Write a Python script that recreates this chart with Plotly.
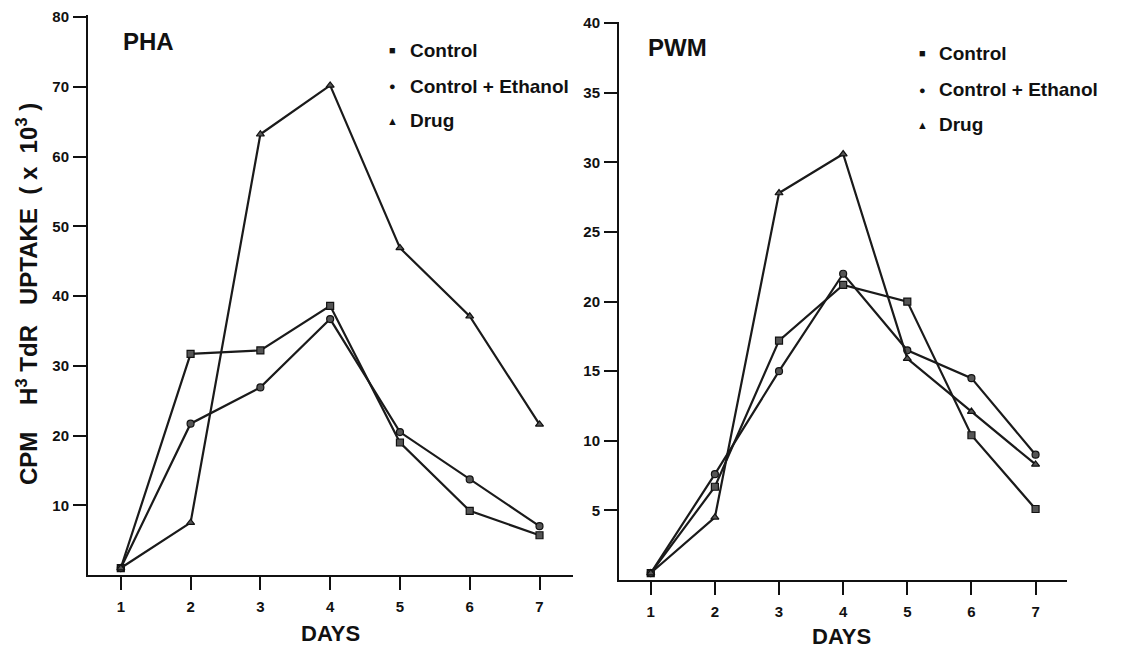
import plotly.graph_objects as go

days = [1, 2, 3, 4, 5, 6, 7]

# PHA panel (CPM x 10^3)
pha_control = [1.0, 31.7, 32.2, 38.6, 19.0, 9.2, 5.7]
pha_ethanol = [1.0, 21.7, 26.9, 36.7, 20.5, 13.7, 7.0]
pha_drug = [1.0, 7.5, 63.2, 70.2, 46.9, 37.1, 21.6]

# PWM panel (CPM x 10^3)
pwm_control = [0.5, 6.7, 17.2, 21.2, 20.0, 10.4, 5.1]
pwm_ethanol = [0.5, 7.6, 15.0, 22.0, 16.5, 14.5, 9.0]
pwm_drug = [0.5, 4.5, 27.8, 30.6, 15.9, 12.1, 8.3]

pha_yticks = [10, 20, 30, 40, 50, 60, 70, 80]
pwm_yticks = [5, 10, 15, 20, 25, 30, 35, 40]

series_names = ["Control", "Control + Ethanol", "Drug"]
symbols = ["square", "circle", "triangle-up"]
legend_glyphs = ["■", "●", "▲"]

FONT = "Liberation Sans, Arial, sans-serif"
W, H = 1148, 649
NB = "\u00a0"

fig = go.Figure()

panels = [
    ("x", "y", [pha_control, pha_ethanol, pha_drug]),
    ("x2", "y2", [pwm_control, pwm_ethanol, pwm_drug]),
]
for xa, ya, data in panels:
    for name, sym, vals in zip(series_names, symbols, data):
        fig.add_trace(go.Scatter(
            x=days, y=vals, xaxis=xa, yaxis=ya, name=name,
            mode="lines+markers", showlegend=False,
            line=dict(color="#1a1a1a", width=2.2),
            marker=dict(symbol=sym, size=7, color="#555555",
                        line=dict(color="#111111", width=1.2)),
        ))

axis_common = dict(
    showgrid=False, zeroline=False, showline=True, linecolor="#111111",
    linewidth=2, ticks="outside", tickcolor="#111111", tickwidth=2,
    ticklen=13, automargin=False,
)
xtickfont = dict(family=FONT, size=15, color="#111111")
ytickfont = dict(family=FONT, size=15, color="#111111")


def px_dom_x(a, b):
    return [a / W, b / W]


def px_dom_y(top, bottom):
    return [1 - bottom / H, 1 - top / H]


fig.update_layout(
    template="none",
    width=W, height=H,
    margin=dict(l=0, r=0, t=0, b=0, pad=0, autoexpand=False),
    paper_bgcolor="white", plot_bgcolor="white",
    showlegend=False,
    xaxis=dict(domain=px_dom_x(88, 573), range=[0.53, 7.48],
               tickvals=days, ticktext=[f"<b>{d}</b>" for d in days],
               tickfont=xtickfont, ticklabelstandoff=4,
               anchor="y", **axis_common),
    yaxis=dict(domain=px_dom_y(15, 575), range=[0, 80.3],
               tickvals=pha_yticks, ticktext=[f"<b>{v}</b>" for v in pha_yticks],
               tickfont=ytickfont, ticklabelstandoff=1,
               anchor="x", **axis_common),
    xaxis2=dict(domain=px_dom_x(619, 1067), range=[0.505, 7.49],
                tickvals=days, ticktext=[f"<b>{d}</b>" for d in days],
                tickfont=xtickfont, ticklabelstandoff=4,
                anchor="y2", **axis_common),
    yaxis2=dict(domain=px_dom_y(21.8, 580), range=[0, 40.1],
                tickvals=pwm_yticks, ticktext=[f"<b>{v}</b>" for v in pwm_yticks],
                tickfont=ytickfont, ticklabelstandoff=1,
                anchor="x2", **axis_common),
)


def ann(text, x, y, size, xanchor="center", yanchor="middle", angle=0):
    fig.add_annotation(text=text, x=x / W, y=1 - y / H, xref="paper", yref="paper",
                       showarrow=False, xanchor=xanchor, yanchor=yanchor,
                       textangle=angle,
                       font=dict(family=FONT, size=size, color="#111111"))


# Panel titles
ann("<b>PHA</b>", 121, 42, 24, xanchor="left")
ann("<b>PWM</b>", 646, 47, 24, xanchor="left")

# Axis titles
ann("<b>DAYS</b>", 330, 633, 22)
ann("<b>DAYS</b>", 841, 636, 22)
title = (f"<b>CPM{NB*4}H<sup>3</sup>{NB}TdR{NB*3}UPTAKE{NB*2}({NB}x{NB*2}10<sup>3</sup>{NB})</b>")
ann(title, 27, 294, 24, angle=-90)

# Legends
for (mx, tx, ys) in [(392, 408, [50, 86, 121]), (922, 937, [53, 90, 125])]:
    for g, name, y in zip(legend_glyphs, series_names, ys):
        ann(g, mx, y, 11)
        ann(f"<b>{name}</b>", tx, y, 19, xanchor="left")

fig.write_html("out.html")
